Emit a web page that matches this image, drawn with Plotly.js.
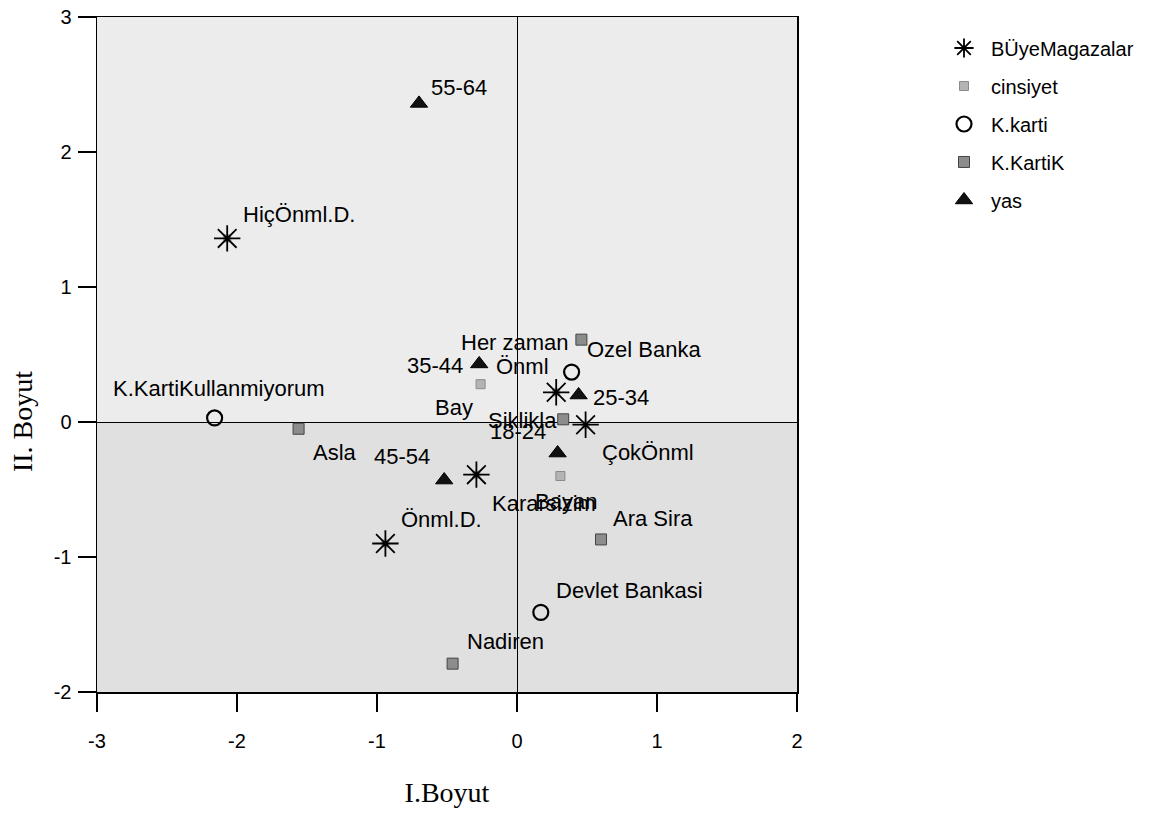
<!DOCTYPE html>
<html>
<head>
<meta charset="utf-8">
<script src="https://cdn.plot.ly/plotly-3.0.1.min.js"></script>
<style>html,body{margin:0;padding:0;background:#fff;}#chart{width:1165px;height:817px;}</style>
</head>
<body>
<div id="chart"></div>
<script>
// ---- data ----
const bymLabels = ['HiçÖnml.D.', 'Önml.D.', 'Kararsizim', 'Önml', 'ÇokÖnml'];
const bymX = [-2.07, -0.94, -0.29, 0.28, 0.49];
const bymY = [1.36, -0.90, -0.39, 0.22, -0.02];

const cinsLabels = ['Bay', 'Bayan'];
const cinsX = [-0.26, 0.31];
const cinsY = [0.28, -0.40];

const kkartiLabels = ['K.KartiKullanmiyorum', 'Ozel Banka', 'Devlet Bankasi'];
const kkartiX = [-2.16, 0.39, 0.17];
const kkartiY = [0.03, 0.37, -1.41];

const kkartikLabels = ['Her zaman', 'Siklikla', 'Ara Sira', 'Nadiren', 'Asla'];
const kkartikX = [0.46, 0.33, 0.60, -0.46, -1.56];
const kkartikY = [0.61, 0.02, -0.87, -1.79, -0.05];

const yasLabels = ['18-24', '25-34', '35-44', '45-54', '55-64'];
const yasX = [0.29, 0.44, -0.27, -0.52, -0.70];
const yasY = [-0.23, 0.20, 0.43, -0.43, 2.36];

const xTicks = [-3, -2, -1, 0, 1, 2];
const yTicks = [-2, -1, 0, 1, 2, 3];

// ---- label placement (pixel offsets, styling only) ----
const labelPlace = {
  'HiçÖnml.D.': ['left', 14, 24],
  'Önml.D.': ['left', 14, 24],
  'Kararsizim': ['left', 14, -29],
  'Önml': ['left', -62, 26],
  'ÇokÖnml': ['left', 14, -28],
  'Bay': ['right', -6, -23],
  'Bayan': ['center', 6, -25],
  'K.KartiKullanmiyorum': ['center', 4, 29],
  'Ozel Banka': ['left', 13, 23],
  'Devlet Bankasi': ['left', 13, 22],
  'Her zaman': ['right', -10, -3],
  'Siklikla': ['right', -4, -1],
  'Ara Sira': ['left', 10, 21],
  'Nadiren': ['left', 12, 22],
  'Asla': ['left', 12, -24],
  '18-24': ['right', -10, 22],
  '25-34': ['left', 12, -2],
  '35-44': ['right', -14, -2],
  '45-54': ['right', -12, 24],
  '55-64': ['left', 10, 16]
};

const SANS = 'Liberation Sans, Arial, sans-serif';
const SERIF = 'Liberation Serif, Times New Roman, serif';

const groups = [
  {name: 'BÜyeMagazalar', x: bymX, y: bymY, labels: bymLabels,
   marker: {symbol: 'asterisk-open', size: 22, color: '#000', line: {color: '#000', width: 1.8}}},
  {name: 'cinsiyet', x: cinsX, y: cinsY, labels: cinsLabels,
   marker: {symbol: 'square', size: 9, color: '#b4b4b4', line: {color: '#8a8a8a', width: 1}}},
  {name: 'K.karti', x: kkartiX, y: kkartiY, labels: kkartiLabels,
   marker: {symbol: 'circle-open', size: 15, color: '#000', line: {color: '#000', width: 2.2}}},
  {name: 'K.KartiK', x: kkartikX, y: kkartikY, labels: kkartikLabels,
   marker: {symbol: 'square', size: 11, color: '#8c8c8c', line: {color: '#444', width: 1}}},
  {name: 'yas', x: yasX, y: yasY, labels: yasLabels,
   marker: {symbol: 'triangle-up', size: 15, color: '#111', line: {color: '#000', width: 1}}}
];

// gray centre under the asterisk markers (same data, no legend entry)
const traces = [{
  type: 'scatter', mode: 'markers', x: bymX, y: bymY, showlegend: false, hoverinfo: 'skip',
  marker: {symbol: 'square', size: 8, color: '#9a9a9a', line: {width: 0}}
}];
groups.forEach((g, i) => traces.push({
  type: 'scatter', mode: 'markers', name: g.name,
  x: g.x, y: g.y, text: g.labels, marker: g.marker,
  legendgroup: 'g' + i, cliponaxis: false,
  hovertemplate: '%{text}<extra>' + g.name + '</extra>'
}));

const annotations = [];
groups.forEach(g => {
  g.labels.forEach((lab, i) => {
    const p = labelPlace[lab];
    annotations.push({
      xref: 'x', yref: 'y', x: g.x[i], y: g.y[i], text: lab,
      showarrow: false, xanchor: p[0], yanchor: 'middle',
      xshift: p[1], yshift: p[2],
      font: {family: SANS, size: 22, color: '#000'}
    });
  });
});
annotations.push({
  xref: 'paper', yref: 'paper', x: -0.107, y: 0.40, text: 'II. Boyut',
  showarrow: false, textangle: -90, xanchor: 'center', yanchor: 'middle',
  font: {family: SERIF, size: 28, color: '#000'}
});

const layout = {
  width: 1165, height: 817,
  margin: {l: 97, r: 368, t: 17, b: 125},
  paper_bgcolor: '#ffffff',
  plot_bgcolor: '#ececec',
  showlegend: true,
  legend: {
    x: 1.2, y: 0.983, xanchor: 'left', yanchor: 'top',
    font: {family: SANS, size: 20, color: '#000'},
    traceorder: 'grouped', tracegroupgap: 9, itemwidth: 44,
    bgcolor: 'rgba(0,0,0,0)'
  },
  xaxis: {
    range: [-3, 2], tickvals: xTicks, ticktext: xTicks.map(String),
    showgrid: false, zeroline: true, zerolinecolor: '#000', zerolinewidth: 1,
    showline: true, linecolor: '#000', linewidth: 1.5, mirror: true,
    ticks: 'outside', ticklen: 18, tickwidth: 2, tickcolor: '#000',
    ticklabelstandoff: 12,
    tickfont: {family: SANS, size: 20, color: '#000'},
    title: {text: 'I.Boyut', font: {family: SERIF, size: 28, color: '#000'}, standoff: 32}
  },
  yaxis: {
    range: [-2, 3], tickvals: yTicks, ticktext: yTicks.map(String),
    showgrid: false, zeroline: true, zerolinecolor: '#000', zerolinewidth: 1,
    showline: true, linecolor: '#000', linewidth: 1.5, mirror: true,
    ticks: 'outside', ticklen: 18, tickwidth: 2, tickcolor: '#000',
    ticklabelstandoff: 2,
    tickfont: {family: SANS, size: 20, color: '#000'}
  },
  shapes: [{
    type: 'rect', xref: 'paper', yref: 'y', x0: 0, x1: 1, y0: -2, y1: 0,
    fillcolor: '#e0e0e0', line: {width: 0}, layer: 'below'
  }],
  annotations: annotations
};

Plotly.newPlot('chart', traces, layout, {displayModeBar: false, staticPlot: true});
</script>
</body>
</html>
